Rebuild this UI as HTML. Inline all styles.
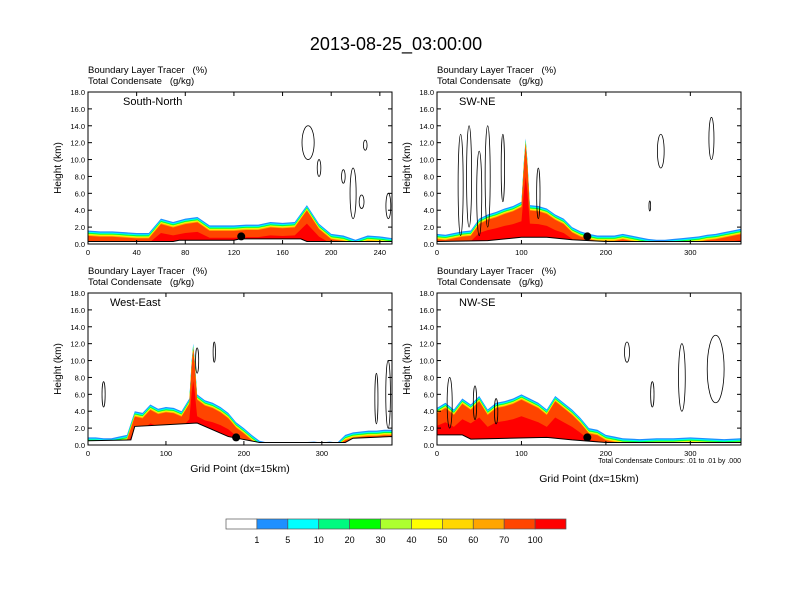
<!DOCTYPE html>
<html><head><meta charset="utf-8"><style>
body{margin:0;background:#fff;}
svg{display:block;font-family:"Liberation Sans",Arial,sans-serif;}
text{white-space:pre;}
</style></head><body>
<svg id="s" width="792" height="612" viewBox="0 0 792 612">
<text x="396" y="50" font-size="18" text-anchor="middle">2013-08-25_03:00:00</text>
</svg>
<script>
// ---- data ----
const snX=[0,10,20,30,40,50,60,70,80,90,100,110,120,130,140,150,160,170,180,190,200,210,220,230,240,250];
const snH=[1.6,1.5,1.5,1.4,1.3,1.3,3.0,2.6,3.0,3.2,2.2,2.2,2.2,2.3,2.3,2.6,2.5,2.6,4.6,2.4,1.2,1.0,0.5,1.0,0.9,0.7];
const swX=[0,10,20,30,40,50,60,70,80,90,100,103,105,107,110,120,130,140,150,160,170,180,190,200,210,220,230,240,250,260,270,280,290,300,310,320,330,340,350,360];
const swH=[1.2,1.1,1.3,1.5,1.6,3.0,3.5,3.8,4.2,4.5,5.0,10,12.5,10,4.6,4.5,4.2,3.5,3.0,2.0,1.5,1.2,1.0,1.0,1.0,1.2,1.0,0.8,0.6,0.5,0.5,0.6,0.7,0.8,0.9,1.1,1.2,1.4,1.6,1.8];
const weX=[0,10,20,30,40,50,60,70,80,90,100,110,120,130,133,135,137,140,150,160,170,180,190,200,210,220,230,250,270,290,300,310,320,330,340,350,360,370,380,390];
const weH=[0.9,0.9,0.8,0.8,1.0,1.2,4.0,3.8,4.8,4.3,4.5,4.4,4.0,5.5,10,12,10,6.0,5.3,5.0,4.5,3.8,2.7,2.0,1.2,0.5,0.3,0.3,0.3,0.4,0.3,0.4,0.3,1.2,1.5,1.6,1.7,1.7,1.8,1.8];
const nwX=[0,10,20,30,40,50,60,70,80,90,100,110,120,130,140,150,160,170,180,190,200,210,220,240,260,280,300,320,340,360];
const nwH=[4.4,5.0,4.2,5.5,4.8,5.8,4.2,5.0,5.2,5.5,6.0,5.5,5.0,4.2,5.8,5.0,4.2,3.2,2.0,1.8,1.2,1.0,0.8,0.7,0.8,0.8,0.9,0.8,0.7,0.8];
const levels=["1","5","10","20","30","40","50","60","70","100"];
const colors=["#ffffff","#1e90ff","#00ffff","#00fa80","#00ff00","#adff2f","#ffff00","#ffd700","#ffa500","#ff4500","#ff0000"];
// contour ellipses: [xCenter, yCenterKm, rxGrid, ryKm]
const snC=[[181,12,5,2],[190,9,1.5,1],[210,8,1.5,0.8],[218,6,2.5,3],[225,5,2,0.8],[228,11.7,1.5,0.6],[247,4.5,2,1.5]];
const swC=[[28,7,3,6],[38,8,3,6],[50,6,3,5],[60,8,3,6],[78,9,2,4],[120,6,2,3],[252,4.5,1,0.6],[265,11,4,2],[325,12.5,3,2.5]];
const weC=[[20,6,2,1.5],[140,10,2,1.5],[162,11,1.5,1.2],[370,5.5,2,3],[385,6,3,4]];
const nwC=[[15,5,3,3],[45,5,2,2],[70,4,2,1.5],[225,11,3,1.2],[255,6,2,1.5],[290,8,4,4],[330,9,10,4]];
const panels=[
 {x:88,y:92,xmax:250,ticks:[0,40,80,120,160,200,240],X:snX,H:snH,C:snC,label:"South-North",dot:126,terr:[[0,0.3],[70,0.3],[75,0.45],[120,0.45],[125,0.6],[175,0.6],[180,0.3],[250,0.3]]},
 {x:437,y:92,xmax:360,ticks:[0,100,200,300],X:swX,H:swH,C:swC,label:"SW-NE",dot:178,terr:[[0,0.3],[60,0.4],[100,0.8],[130,0.8],[160,0.5],[200,0.3],[360,0.3]]},
 {x:88,y:293,xmax:390,ticks:[0,100,200,300],X:weX,H:weH,C:weC,label:"West-East",dot:190,terr:[[0,0.5],[55,0.6],[60,2.2],[100,2.4],[140,2.6],[180,1.0],[220,0.3],[330,0.3],[340,0.8],[390,1.0]]},
 {x:437,y:293,xmax:360,ticks:[0,100,200,300],X:nwX,H:nwH,C:nwC,label:"NW-SE",dot:178,terr:[[0,1.2],[30,1.2],[40,0.7],[130,0.9],[160,0.6],[200,0.3],[360,0.3]]}
];
const W=304,Hh=152,NS="http://www.w3.org/2000/svg";
const svg=document.getElementById('s');
function mk(t,a,p){const e=document.createElementNS(NS,t);for(const k in a)e.setAttribute(k,a[k]);(p||svg).appendChild(e);return e;}
const offs=[0,0.15,0.25,0.32,0.38,0.44,0.5,0.56,0.64,0.8];
panels.forEach((P,pi)=>{
 const g=mk('g',{});
 
 
 const sx=v=>P.x+v/P.xmax*W, sy=v=>P.y+Hh-v/18*Hh;
 const t1=mk('text',{x:P.x,y:P.y-19,'font-size':9.5},g);t1.textContent="Boundary Layer Tracer   (%)";
 
 const t2=mk('text',{x:P.x,y:P.y-8,'font-size':9.5},g);t2.textContent="Total Condensate   (g/kg)";
 
 for(let k=0;k<offs.length;k++){
  let pts=[];
  P.X.forEach((xv,i)=>{const h=Math.max(0,P.H[i]-offs[k]-(k==9?P.H[i]*0.3:0));pts.push(sx(xv)+','+sy(h));});
  pts.push(sx(P.X[P.X.length-1])+','+sy(0));pts.push(sx(0)+','+sy(0));
  const pg=mk('polygon',{points:pts.join(' '),fill:colors[k+1]},g);
  
 }
 let tp=P.terr.map(d=>sx(d[0])+','+sy(d[1]));tp.push(sx(P.xmax)+','+sy(0),sx(0)+','+sy(0));
 const tr=mk('polygon',{points:tp.join(' '),fill:'#fff',stroke:'#000','stroke-width':1},g);
 
 P.C.forEach(c=>{const e=mk('ellipse',{cx:sx(c[0]),cy:sy(c[1]),rx:c[2]/P.xmax*W,ry:c[3]/18*Hh,fill:'none',stroke:'#000','stroke-width':0.8},g);
  });
 const dt=mk('circle',{cx:sx(P.dot),cy:sy(0.9),r:4,fill:'#000'},g);
 
 const fr=mk('rect',{x:P.x,y:P.y,width:W,height:Hh,fill:'none',stroke:'#000','stroke-width':1},g);
 
 for(let v=0;v<=18;v+=2){const y=sy(v);
  mk('line',{x1:P.x,x2:P.x+4,y1:y,y2:y,stroke:'#000'},g);mk('line',{x1:P.x+W,x2:P.x+W-4,y1:y,y2:y,stroke:'#000'},g);
  const tl=mk('text',{x:P.x-3,y:y+3,'font-size':7.5,'text-anchor':'end'},g);tl.textContent=v.toFixed(1);
  }
 P.ticks.forEach(v=>{const x=sx(v);mk('line',{x1:x,x2:x,y1:P.y+Hh,y2:P.y+Hh-4,stroke:'#000'},g);mk('line',{x1:x,x2:x,y1:P.y,y2:P.y+4,stroke:'#000'},g);
  const tl=mk('text',{x:x,y:P.y+Hh+11,'font-size':7.5,'text-anchor':'middle'},g);tl.textContent=v;
  });
 const yt=mk('text',{x:0,y:0,'font-size':10,'text-anchor':'middle',transform:`translate(${P.x-27},${P.y+Hh/2}) rotate(-90)`},g);yt.textContent="Height (km)";
 
 const lb=mk('text',{x:P.x+(pi==0?35:22),y:P.y+13,'font-size':11},g);lb.textContent=P.label;
 
 if(pi>=2){const xt=mk('text',{x:P.x+W/2,y:pi==2?472:482,'font-size':10.5,'text-anchor':'middle'},g);xt.textContent="Grid Point (dx=15km)";
  }
});
const note=mk('text',{x:741,y:463,'font-size':7,'text-anchor':'end'});note.textContent="Total Condensate Contours: .01 to .01 by .000";

const cb=mk('g',{});
const bw=340/11;
colors.forEach((c,i)=>{const r=mk('rect',{x:226+i*bw,y:519,width:bw,height:10,fill:c,stroke:'#555','stroke-width':0.7},cb);
 });
levels.forEach((l,i)=>{const t=mk('text',{x:226+(i+1)*bw,y:543,'font-size':9,'text-anchor':'middle'},cb);t.textContent=l;
 });
</script>
</body></html>
